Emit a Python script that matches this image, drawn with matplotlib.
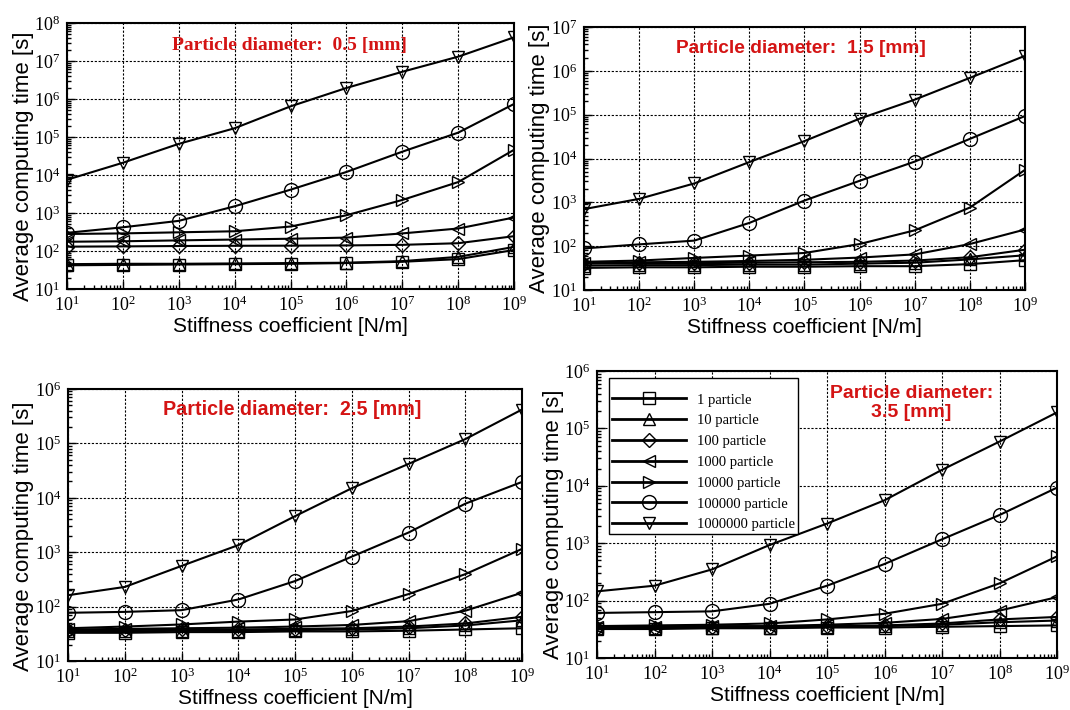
import matplotlib
matplotlib.use("Agg")
import matplotlib.pyplot as plt
from matplotlib.ticker import LogLocator, NullFormatter, LogFormatterMathtext

plt.rcParams['font.family'] = ['Liberation Serif', 'DejaVu Serif']

stiffness = [1e1, 1e2, 1e3, 1e4, 1e5, 1e6, 1e7, 1e8, 1e9]

labels = ['1 particle', '10 particle', '100 particle', '1000 particle',
          '10000 particle', '100000 particle', '1000000 particle']
markers = ['s', '^', 'D', '<', '>', 'o', 'v']
msizes = [8, 8, 7, 8, 8, 10, 8]

# 0.5 mm
d05_1 = [42, 43, 44, 45, 46, 48, 52, 61, 106]
d05_10 = [45, 46, 46, 47, 48, 49, 54, 70, 128]
d05_100 = [130, 132, 135, 137, 138, 140, 145, 160, 245]
d05_1000 = [175, 180, 190, 200, 210, 225, 290, 390, 760]
d05_10000 = [280, 290, 310, 330, 440, 870, 2200, 6500, 4.6e4]
d05_100000 = [300, 420, 620, 1500, 4100, 1.2e4, 4.1e4, 1.3e5, 7.4e5]
d05_1000000 = [7.5e3, 2.1e4, 6.6e4, 1.7e5, 6.4e5, 1.95e6, 5.2e6, 1.3e7, 4.2e7]

# 1.5 mm
d15_1 = [32, 33, 33, 34, 34, 35, 35, 39, 48]
d15_10 = [36, 37, 37, 38, 38, 40, 42, 50, 62]
d15_100 = [40, 41, 41, 42, 43, 44, 47, 56, 83]
d15_1000 = [42, 43, 44, 46, 49, 55, 65, 112, 240]
d15_10000 = [44, 47, 54, 61, 70, 112, 230, 760, 5.5e3]
d15_100000 = [89, 110, 134, 340, 1.1e3, 3.1e3, 8.5e3, 2.8e4, 9.3e4]
d15_1000000 = [700, 1.2e3, 2.7e3, 8.3e3, 2.5e4, 8.1e4, 2.2e5, 6.9e5, 2.2e6]

# 2.5 mm
d25_1 = [33, 33, 34, 34, 35, 35, 36, 38, 40]
d25_10 = [35, 35, 36, 36, 37, 38, 40, 45, 56]
d25_100 = [37, 37, 38, 38, 39, 40, 43, 49, 65]
d25_1000 = [38, 39, 40, 41, 43, 46, 54, 84, 180]
d25_10000 = [40, 43, 47, 53, 58, 83, 170, 395, 1.15e3]
d25_100000 = [77, 80, 86, 135, 295, 830, 2.3e3, 7.8e3, 1.96e4]
d25_1000000 = [162, 230, 560, 1.35e3, 4.6e3, 1.5e4, 4.2e4, 1.2e5, 4.2e5]

# 3.5 mm
d35_1 = [32, 32, 33, 33, 34, 34, 35, 36, 37]
d35_10 = [33, 33, 34, 34, 35, 36, 38, 42, 45]
d35_100 = [34, 34, 35, 35, 36, 37, 40, 47, 52]
d35_1000 = [35, 35, 36, 36, 38, 41, 48, 67, 115]
d35_10000 = [36, 37, 38, 40, 47, 59, 88, 200, 590]
d35_100000 = [61, 63, 65, 88, 182, 435, 1.17e3, 3.1e3, 9.3e3]
d35_1000000 = [145, 182, 350, 930, 2.2e3, 5.6e3, 1.9e4, 5.9e4, 1.9e5]

red = '#d41414'

fig = plt.figure(figsize=(10.7, 7.1), dpi=100)


def panel(rect, series, ytop, title, title_xy, title_font, title_size, ylab_xy):
    ax = fig.add_axes(rect)
    for s, m, ms, lab in zip(series, markers, msizes, labels):
        ax.plot(stiffness, s, color='black', lw=1.5, marker=m, ms=ms,
                mfc='none', mec='black', mew=1.0, label=lab)
    ax.set_xscale('log')
    ax.set_yscale('log')
    ax.set_xlim(1e1, 1e9)
    ax.set_ylim(1e1, ytop)
    for axis in (ax.xaxis, ax.yaxis):
        axis.set_major_locator(LogLocator(base=10, numticks=20))
        axis.set_minor_locator(LogLocator(base=10, subs=range(2, 10), numticks=100))
        axis.set_minor_formatter(NullFormatter())
        axis.set_major_formatter(LogFormatterMathtext())
    ax.tick_params(which='both', direction='in', top=False, right=False,
                   labelsize=13, width=1.0)
    ax.tick_params(which='major', length=6, pad=5)
    ax.tick_params(which='minor', length=3)
    ax.grid(True, which='major', color='black', lw=0.8, ls=(0, (2, 1.5)))
    for sp in ax.spines.values():
        sp.set_linewidth(1.5)
    ax.set_xlabel('Stiffness coefficient [N/m]', fontfamily='Liberation Sans',
                  fontsize=15, labelpad=1)
    ax.set_ylabel('Average computing time [s]', fontfamily='Liberation Sans',
                  fontsize=16)
    ax.yaxis.set_label_coords(*ylab_xy)
    ax.text(title_xy[0], title_xy[1], title, transform=ax.transAxes,
            ha='center', va='center', color=red, fontweight='bold',
            fontfamily=title_font, fontsize=title_size, linespacing=1.15)
    return ax


panel([0.0626, 0.593, 0.4178, 0.3746],
      [d05_1, d05_10, d05_100, d05_1000, d05_10000, d05_100000, d05_1000000],
      1e8, 'Particle diameter:  0.5 [mm]', (0.498, 0.915), 'Liberation Serif', 14,
      (-0.074, 0.46))

panel([0.5458, 0.5915, 0.4121, 0.3705],
      [d15_1, d15_10, d15_100, d15_1000, d15_10000, d15_100000, d15_1000000],
      1e7, 'Particle diameter:  1.5 [mm]', (0.493, 0.92), 'Liberation Sans', 13.8,
      (-0.078, 0.5))

panel([0.0636, 0.069, 0.4243, 0.3831],
      [d25_1, d25_10, d25_100, d25_1000, d25_10000, d25_100000, d25_1000000],
      1e6, 'Particle diameter:  2.5 [mm]', (0.494, 0.923), 'Liberation Sans', 14.2,
      (-0.075, 0.46))

ax4 = panel([0.558, 0.0732, 0.4299, 0.4043],
            [d35_1, d35_10, d35_100, d35_1000, d35_10000, d35_100000, d35_1000000],
            1e6, 'Particle diameter:\n3.5 [mm]', (0.683, 0.89), 'Liberation Sans', 14,
            (-0.072, 0.465))

leg = ax4.legend(loc='upper left', bbox_to_anchor=(0.026, 0.976), fontsize=10.5,
                 handlelength=5.1, handletextpad=0.75, labelspacing=0.52,
                 borderpad=0.2, fancybox=False, framealpha=1,
                 edgecolor='black', borderaxespad=0,
                 title=' ', title_fontsize=5)
leg.get_frame().set_linewidth(1.0)
for h in leg.get_lines():
    h.set_linewidth(2.0)

fig.savefig('out.png', dpi=100)
